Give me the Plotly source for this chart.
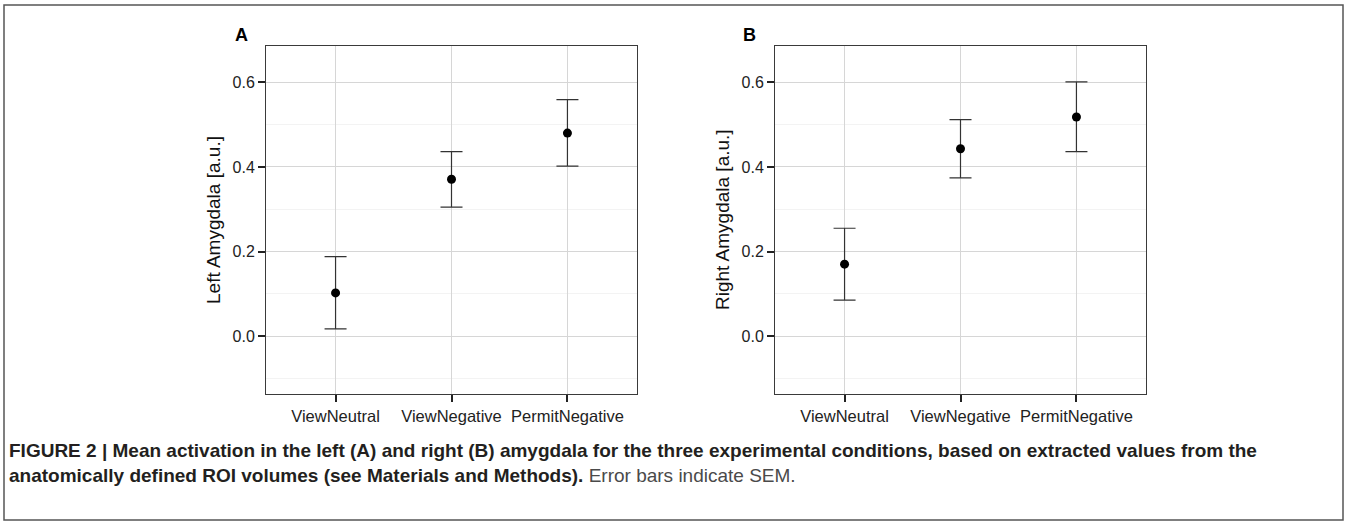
import plotly.graph_objects as go

# ---- data ----
categories = ["ViewNeutral", "ViewNegative", "PermitNegative"]
left_mean = [0.102, 0.371, 0.480]
left_upper = [0.188, 0.436, 0.559]
left_lower = [0.017, 0.305, 0.402]
right_mean = [0.170, 0.443, 0.518]
right_upper = [0.255, 0.512, 0.601]
right_lower = [0.085, 0.374, 0.436]
y_ticks = [0.0, 0.2, 0.4, 0.6]
y_tick_labels = ["0.0", "0.2", "0.4", "0.6"]
panel_letters = ["A", "B"]
y_titles = ["Left Amygdala [a.u.]", "Right Amygdala [a.u.]"]
caption_bold = ("FIGURE 2 | Mean activation in the left (A) and right (B) amygdala for the three "
                "experimental conditions, based on extracted values from the<br>anatomically defined "
                "ROI volumes (see Materials and Methods).")
caption_plain = " Error bars indicate SEM."

W, H = 1348, 523
FONT = "Liberation Sans"


def px(x):
    return x / W


def py(y):
    return 1 - y / H


fig = go.Figure()

panels = [
    dict(left=266, right=637, mean=left_mean, up=left_upper, lo=left_lower, xa="x", ya="y"),
    dict(left=775, right=1146, mean=right_mean, up=right_upper, lo=right_lower, xa="x2", ya="y2"),
]
top, bottom = 46, 394

for i, p in enumerate(panels):
    plus = [u - m for u, m in zip(p["up"], p["mean"])]
    minus = [m - l for m, l in zip(p["mean"], p["lo"])]
    fig.add_trace(go.Scatter(
        x=categories, y=p["mean"], mode="markers",
        marker=dict(color="black", size=9),
        error_y=dict(type="data", symmetric=False, array=plus, arrayminus=minus,
                     color="#333333", thickness=1.2, width=11),
        xaxis=p["xa"], yaxis=p["ya"], showlegend=False, hoverinfo="skip",
    ))

    axis_common = dict(
        showline=True, linecolor="#3a3a3a", linewidth=1, mirror=True,
        ticks="outside", ticklen=7, tickwidth=1.6, tickcolor="#222222",
        showgrid=True, gridcolor="#d6d6d6", gridwidth=1, zeroline=False,
    )
    xkey = "xaxis" if i == 0 else "xaxis2"
    ykey = "yaxis" if i == 0 else "yaxis2"
    fig.update_layout(**{
        xkey: dict(axis_common, domain=[px(p["left"]), px(p["right"])],
                   type="category", range=[-0.6, 2.6], anchor=p["ya"],
                   tickfont=dict(family=FONT, size=16.5, color="#222222")),
        ykey: dict(axis_common, domain=[py(bottom), py(top)], range=[-0.137, 0.686],
                   tickvals=y_ticks, ticktext=y_tick_labels, anchor=p["xa"],
                   tickfont=dict(family=FONT, size=16, color="#222222"),
                   minor=dict(dtick=0.1, tick0=0, showgrid=True, gridcolor="#f3f3f3",
                              ticks="", gridwidth=1)),
    })

    # panel letter
    fig.add_annotation(x=px(p["left"] - 25), y=py(35), xref="paper", yref="paper",
                       text="<b>%s</b>" % panel_letters[i], showarrow=False,
                       font=dict(family=FONT, size=18, color="black"),
                       xanchor="center", yanchor="middle")
    # y title
    fig.add_annotation(x=px(p["left"] - 53), y=py((top + bottom) / 2), xref="paper", yref="paper",
                       text=y_titles[i], textangle=-90, showarrow=False,
                       font=dict(family=FONT, size=19, color="#111111"),
                       xanchor="center", yanchor="middle")

# caption
fig.add_annotation(x=px(7), y=py(463), xref="paper", yref="paper",
                   text="<b>" + caption_bold + "</b><span style='color:#4a4a4a'>" + caption_plain + "</span>",
                   showarrow=False, align="left", xanchor="left", yanchor="middle",
                   font=dict(family=FONT, size=19, color="#231f20"))

# outer frame
fig.add_shape(type="rect", xref="paper", yref="paper",
              x0=px(4), x1=px(1343), y0=py(520), y1=py(5),
              line=dict(color="#555555", width=1.5))

fig.update_layout(width=W, height=H, margin=dict(l=0, r=0, t=0, b=0),
                  paper_bgcolor="white", plot_bgcolor="white",
                  font=dict(family=FONT))

fig.write_html("out.html")
